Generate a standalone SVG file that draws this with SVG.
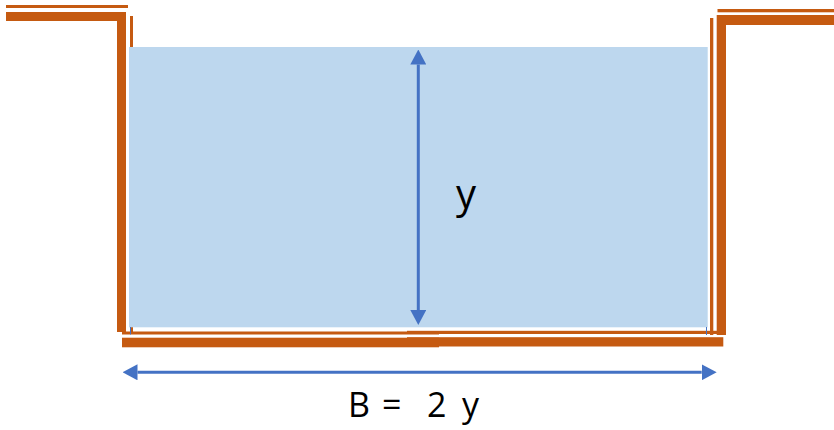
<svg xmlns="http://www.w3.org/2000/svg" width="834" height="430" viewBox="0 0 834 430">
  <style>
    .wall { fill: #C55A11; }
    .water { fill: #BDD7EE; }
    .dim { stroke: #4472C4; stroke-width: 3; fill: none; }
    .tick { stroke: #4472C4; stroke-width: 1; }
    .lbl { font-family: "Open Sans", "Liberation Sans", sans-serif; fill: #000000; }
  </style>
  <defs>
    <marker id="arrow" viewBox="0 0 15 16" refX="0" refY="8" markerWidth="15" markerHeight="16" markerUnits="userSpaceOnUse" orient="auto-start-reverse">
      <path d="M0,0 L15,8 L0,16 z" fill="#4472C4"/>
    </marker>
  </defs>

  <g id="channel-left-wall">
    <rect class="wall" x="6" y="5" width="122" height="3"/>
    <rect class="wall" x="6" y="12" width="120" height="9"/>
    <rect class="wall" x="117" y="12" width="9" height="320"/>
    <rect class="wall" x="130" y="16" width="3" height="317"/>
  </g>
  <g id="channel-right-wall">
    <rect class="wall" x="717.5" y="9" width="116.5" height="3.3"/>
    <rect class="wall" x="717" y="15" width="117" height="10"/>
    <rect class="wall" x="716.7" y="15" width="9.3" height="320"/>
    <rect class="wall" x="710" y="18" width="3.3" height="317"/>
  </g>
  <g id="channel-bed">
    <rect class="wall" x="122" y="331.5" width="317" height="3"/>
    <rect class="wall" x="122" y="337.7" width="317" height="9.6"/>
    <rect class="wall" x="407" y="330.8" width="310" height="3.2"/>
    <rect class="wall" x="407" y="337.2" width="316.3" height="9.3"/>
  </g>
  <g id="water">
    <rect class="water" x="129" y="47" width="578.7" height="280.3"/>
  </g>

  <g id="connectors">
    <line class="dim" x1="418.3" y1="64.5" x2="418.3" y2="310" marker-start="url(#arrow)" marker-end="url(#arrow)"/>
    <line class="dim" x1="137.5" y1="372.3" x2="701.7" y2="372.3" marker-start="url(#arrow)" marker-end="url(#arrow)"/>
    <line class="tick" x1="130.5" y1="327" x2="130.5" y2="334.5"/>
    <line class="tick" x1="706.5" y1="327" x2="706.5" y2="335"/>
  </g>

  <g id="label-depth">
    <text class="lbl" x="456" y="208" font-size="40">y</text>
  </g>
  <g id="label-width">
    <text class="lbl" font-size="34" y="417" xml:space="preserve"><tspan x="348">B</tspan> <tspan x="382">=</tspan>  <tspan x="427">2</tspan> <tspan x="462">y</tspan></text>
  </g>
</svg>
